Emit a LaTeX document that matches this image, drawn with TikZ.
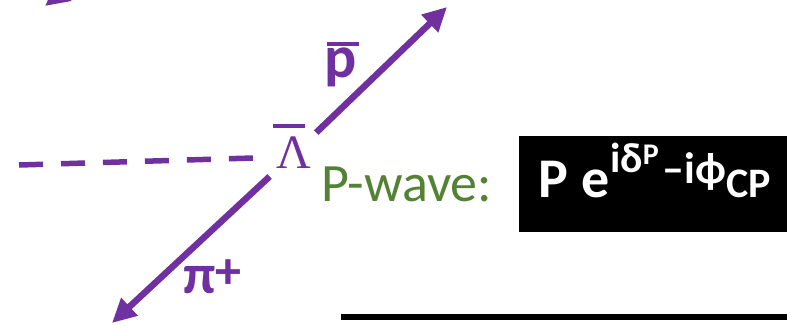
\documentclass[tikz,border=0pt]{standalone}
\usepackage{fontspec}
\setmainfont{Carlito}
\newfontfamily\greekserif{Liberation Serif}
\usetikzlibrary{arrows.meta, positioning}

\definecolor{decaypurple}{HTML}{7030A0}
\definecolor{wavegreen}{HTML}{548235}

% bar over a symbol: #1 symbol, #2 shift, #3 raise, #4 width
\newcommand{\barover}[4]{\leavevmode\rlap{\kern#2\rule[#3]{#4}{4pt}}#1}
\newcommand{\fsize}[1]{\fontsize{#1}{#1}\selectfont}

\begin{document}
\begin{tikzpicture}[
    x=1pt, y=-1pt,
    >={Triangle[length=24pt, width=23pt]},
    track/.style={
        ->,
        draw=decaypurple,
        fill=decaypurple,
        line width=6.5pt
    },
    beam/.style={
        draw=decaypurple,
        line width=5.5pt,
        dash pattern=on 24pt off 18pt
    },
    particle/.style={
        text=decaypurple,
        inner sep=0pt,
        font=\fsize{60pt}\bfseries
    },
    wavelabel/.style={
        text=wavegreen,
        inner sep=0pt,
        font=\fsize{54pt}
    },
    amplitude/.style={
        fill=black,
        text=white,
        inner xsep=19pt,
        inner ysep=0pt,
        font=\fsize{56pt}\bfseries
    }
]
\useasboundingbox (0,0) rectangle (787,325);
\clip (0,0) rectangle (787,325);

\coordinate (vertex) at (296,152);
\coordinate (ptip) at (447,7);
\coordinate (pitip) at (112,323);
\coordinate (beamin) at (19,165);
\coordinate (beamend) at (253,158);
\coordinate (incfrom) at (124,-56);
\coordinate (inctip) at (45,6);

\node[particle, font=\fsize{48pt}\greekserif, anchor=base] (lambda) at (294,168) {\barover{Λ}{-3.5pt}{40pt}{32pt}};
\node[particle, anchor=base west] (pbarlabel) at (324,77) {\barover{p}{3pt}{31pt}{32pt}};
\node[particle, font=\fsize{56pt}\bfseries, anchor=base west] (pilabel) at (183,293) {π\raisebox{5pt}{\fsize{52pt}+}};

\node[wavelabel, anchor=base west] (pwave) at (321,201) {P-wave:};
\node[amplitude, anchor=base west] (amp) at (519,197) {\rule[-35pt]{0pt}{96pt}P\kern14pt e\raisebox{25pt}{\fsize{42pt}iδ\raisebox{8pt}{\fsize{30pt}P}}\kern4pt\raisebox{14pt}{\fsize{44pt}–iϕ}{\fsize{42pt}CP}\kern40pt};

\draw[track] (incfrom) -- (inctip);
\draw[beam] (beamin) -- (beamend);
\draw[track, shorten <=28pt] (vertex) -- (ptip);
\draw[track, shorten <=36pt] (vertex) -- (pitip);

\coordinate (rulestart) at (341,317);
\coordinate (ruleend) at (790,317);
\draw[line width=6pt] (rulestart) -- (ruleend);

\end{tikzpicture}
\end{document}
